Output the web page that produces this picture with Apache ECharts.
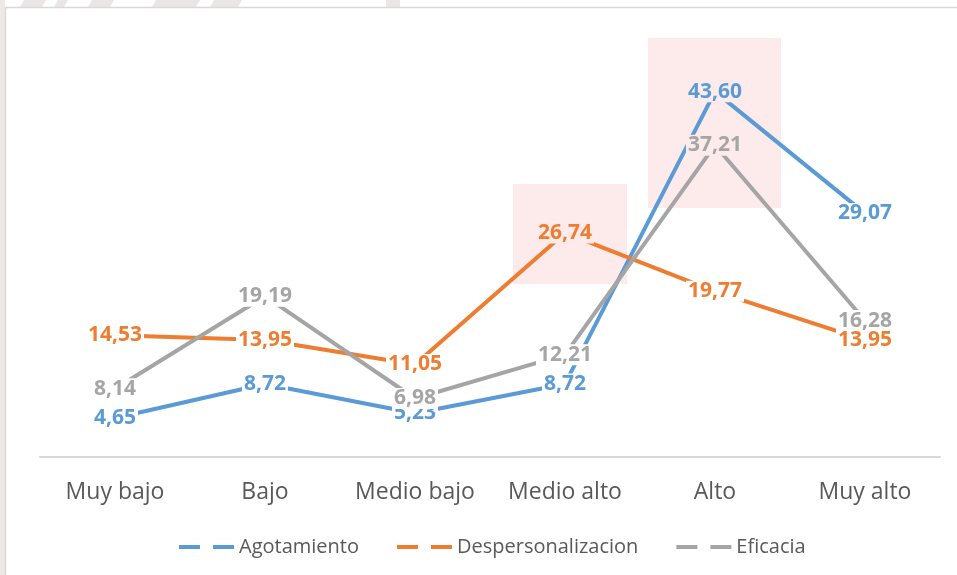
<!DOCTYPE html>
<html>
<head>
<meta charset="utf-8">
<script src="https://cdn.jsdelivr.net/npm/echarts@6/dist/echarts.min.js"></script>
<style>
  html, body { margin: 0; padding: 0; background: #fff; }
  #chart { width: 957px; height: 575px; }
</style>
</head>
<body>
<div id="chart"></div>
<script>
var categories = ['Muy bajo', 'Bajo', 'Medio bajo', 'Medio alto', 'Alto', 'Muy alto'];
var agotamiento = [4.65, 8.72, 5.23, 8.72, 43.60, 29.07];
var despersonalizacion = [14.53, 13.95, 11.05, 26.74, 19.77, 13.95];
var eficacia = [8.14, 19.19, 6.98, 12.21, 37.21, 16.28];
var seriesNames = ['Agotamiento', 'Despersonalizacion', 'Eficacia'];
var colors = ['#5b9bd5', '#ed7d31', '#a5a5a5'];

var pink = '#fdeaea';
var font = '"Open Sans", Carlito, sans-serif';

var chartDom = document.getElementById('chart');
var myChart = echarts.init(chartDom);

// labels sit on the point, with a background that hides the line under them
function labelData(values, highlight) {
    return values.map(function (v, i) {
        return {
            value: v,
            label: { backgroundColor: highlight.indexOf(i) >= 0 ? pink : '#fff' }
        };
    });
}

function makeSeries(name, values, color, highlight) {
    return {
        name: name,
        type: 'line',
        data: labelData(values, highlight),
        symbol: 'circle',
        symbolSize: 0,
        showSymbol: true,
        lineStyle: { color: color, width: 4 },
        itemStyle: { color: color },
        label: {
            show: true,
            position: 'inside',
            color: color,
            fontFamily: font,
            fontWeight: 'bold',
            fontSize: 21,
            padding: [0, 2],
            formatter: function (p) { return p.value.toFixed(2).replace('.', ','); }
        },
        z: 3
    };
}

var stripe = '#ebe6e6';
var option = {
    backgroundColor: '#fff',
    animation: false,
    graphic: [
        { type: 'rect', shape: { x: 0, y: 0, width: 5, height: 575 }, style: { fill: '#ede9e9' }, z: -10 },
        { type: 'polygon', shape: { points: [[24, 0], [46, 0], [42, 7], [20, 7]] }, style: { fill: stripe }, z: -10 },
        { type: 'polygon', shape: { points: [[58, 0], [68, 0], [64, 7], [54, 7]] }, style: { fill: stripe }, z: -10 },
        { type: 'polygon', shape: { points: [[92, 0], [114, 0], [110, 7], [88, 7]] }, style: { fill: stripe }, z: -10 },
        { type: 'polygon', shape: { points: [[156, 0], [200, 0], [196, 7], [152, 7]] }, style: { fill: stripe }, z: -10 },
        { type: 'polygon', shape: { points: [[214, 0], [242, 0], [238, 7], [210, 7]] }, style: { fill: stripe }, z: -10 },
        { type: 'rect', shape: { x: 386, y: 0, width: 14, height: 7 }, style: { fill: stripe }, z: -10 },
        { type: 'rect', shape: { x: 5.5, y: 7.5, width: 960, height: 600 }, style: { fill: '#fff', stroke: '#d9d9d9', lineWidth: 1.5 }, z: -9 },
        { type: 'rect', shape: { x: 648, y: 38, width: 133, height: 170 }, style: { fill: pink }, z: -8 },
        { type: 'rect', shape: { x: 513, y: 184, width: 114, height: 100 }, style: { fill: pink }, z: -8 }
    ],
    grid: { left: 40, right: 17, top: 38, bottom: 118 },
    legend: {
        bottom: 13,
        left: 174,
        itemGap: 38,
        itemWidth: 55,
        itemHeight: 4,
        icon: 'path://M0,0h21v4h-21z M34,0h21v4h-21z',
        textStyle: { color: '#595959', fontSize: 20, fontFamily: font, padding: [0, 0, 0, 0] },
        data: seriesNames
    },
    xAxis: {
        type: 'category',
        data: categories,
        boundaryGap: true,
        axisLine: { lineStyle: { color: '#d9d9d9', width: 2 } },
        axisTick: { show: false },
        axisLabel: { interval: 0, hideOverlap: false, color: '#595959', fontSize: 23, fontFamily: font, margin: 24 }
    },
    yAxis: {
        type: 'value',
        min: 0,
        max: 50,
        show: false,
        splitLine: { show: false }
    },
    series: [
        makeSeries(seriesNames[0], agotamiento, colors[0], [4]),
        makeSeries(seriesNames[1], despersonalizacion, colors[1], [3]),
        makeSeries(seriesNames[2], eficacia, colors[2], [4])
    ]
};

myChart.setOption(option);

window.onresize = function () {
    myChart.resize();
};
</script>
</body>
</html>
